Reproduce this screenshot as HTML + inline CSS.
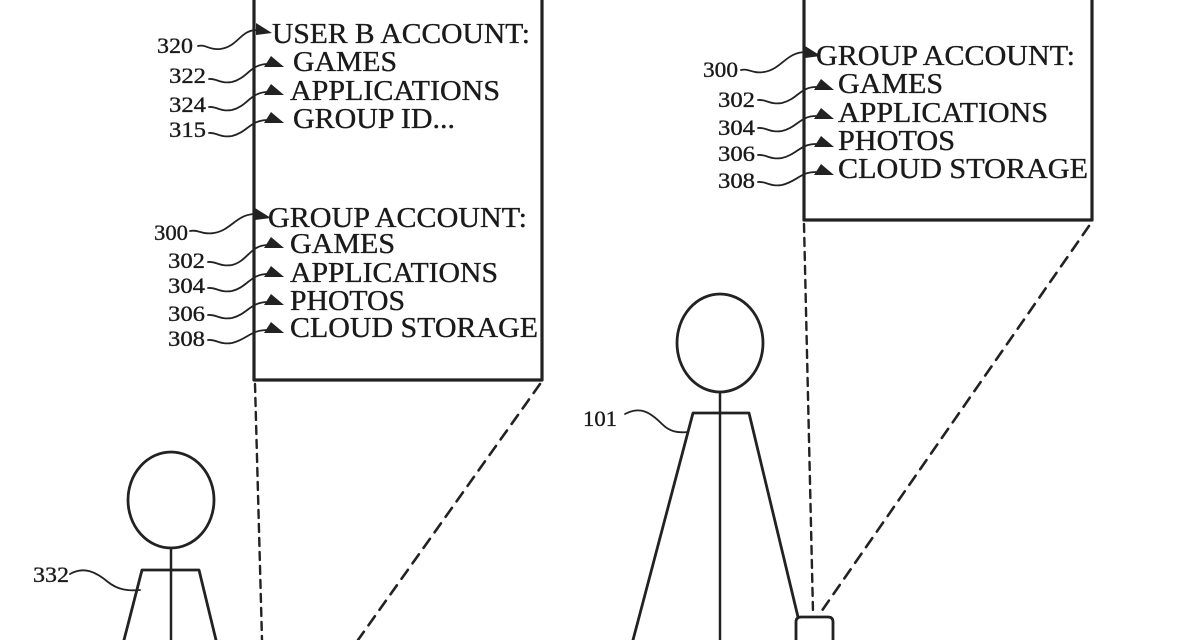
<!DOCTYPE html>
<html><head><meta charset="utf-8"><style>
html,body{margin:0;padding:0;background:#fff;}
svg{display:block;}
text{font-family:"Liberation Serif","DejaVu Serif",serif;fill:#1a1a1a;stroke:#1a1a1a;stroke-width:0.35;}
</style></head><body>
<svg width="1200" height="640" viewBox="0 0 1200 640" xmlns="http://www.w3.org/2000/svg">
<g fill="none" stroke="#222" stroke-linecap="round" stroke-linejoin="round">
  <!-- left box -->
  <path d="M254,0 L254,380 L542,380 L542,0" stroke-width="3.2"/>
  <!-- right box -->
  <path d="M804,0 L804,220 L1092,220 L1092,0" stroke-width="3.2"/>
  <!-- projection dashed lines -->
  <path d="M255,384 L262,640" stroke-width="2.4" stroke-dasharray="8,6"/>
  <path d="M540,384 L358,640" stroke-width="2.6" stroke-dasharray="11,8"/>
  <path d="M804,224 L813,612" stroke-width="2.4" stroke-dasharray="8,6"/>
  <path d="M1089,226 L821,612" stroke-width="2.6" stroke-dasharray="11,8"/>
  <!-- left figure 332 -->
  <ellipse cx="171" cy="500" rx="43" ry="48" stroke-width="2.8"/>
  <path d="M171,548 L171,640" stroke-width="2.5"/>
  <path d="M124,640 L142,570 L199,570 L216,640" stroke-width="2.8"/>
  <!-- right figure 101 -->
  <ellipse cx="720" cy="343" rx="43" ry="49" stroke-width="2.8"/>
  <path d="M720,392 L720,640" stroke-width="2.5"/>
  <path d="M633,640 L693,413 L749,413 L798,617" stroke-width="2.8"/>
  <!-- device -->
  <path d="M796,640 L796,622 Q796,617 801,617 L828,617 Q833,617 833,622 L833,640" stroke-width="2.8"/>
  <!-- leaders -->
  <g stroke-width="1.8">
    <path d="M198,46 C206,44 208,50 220,49 C238,47 240,30 257,30"/>
    <path d="M209,79 C216,78 220,84 232,82 C248,78 250,64 268,64"/>
    <path d="M209,107 C216,106 220,112 232,110 C248,106 250,92 268,92"/>
    <path d="M209,133 C216,132 220,138 232,136 C248,132 250,120 268,120"/>
    <path d="M190,231 C198,229 202,235 214,233 C232,230 236,214 256,214"/>
    <path d="M208,262 C216,261 220,267 232,265 C248,261 250,245 268,245"/>
    <path d="M208,288 C216,287 220,293 232,291 C248,287 250,274 268,274"/>
    <path d="M208,315 C216,314 220,320 232,318 C248,314 250,302 268,302"/>
    <path d="M208,340 C216,339 220,345 232,343 C248,339 250,330 268,330"/>
    <path d="M741,70 C749,68 752,74 764,72 C782,69 786,52 806,52"/>
    <path d="M758,100 C766,99 770,105 782,103 C798,99 800,87 816,87"/>
    <path d="M758,128 C766,127 770,133 782,131 C798,127 800,116 816,116"/>
    <path d="M758,155 C766,154 770,160 782,158 C798,154 800,144 816,144"/>
    <path d="M758,182 C766,181 770,187 782,185 C798,181 800,172 816,172"/>
    <path d="M70,574 C84,566 96,572 108,582 C118,590 128,591 140,590"/>
    <path d="M625,414 C640,406 650,412 662,424 C670,432 678,433 688,432"/>
  </g>
</g>
<!-- arrowheads -->
<g fill="#222">
  <polygon points="256,23 272,33 256,35"/>
  <polygon points="264,67 284,67 271,56"/>
  <polygon points="264,95 284,95 271,84"/>
  <polygon points="264,123 284,123 271,112"/>
  <polygon points="255,208 271,218 255,220"/>
  <polygon points="264,248 284,248 271,237"/>
  <polygon points="264,277 284,277 271,266"/>
  <polygon points="264,305 284,305 271,294"/>
  <polygon points="264,333 284,333 271,322"/>
  <polygon points="805,46 821,56 805,58"/>
  <polygon points="814,90 834,90 821,79"/>
  <polygon points="814,119 834,119 821,108"/>
  <polygon points="814,147 834,147 821,136"/>
  <polygon points="814,175 834,175 821,164"/>
</g>
<!-- box texts -->
<g font-size="28">
  <text x="272" y="43" textLength="258" lengthAdjust="spacingAndGlyphs">USER B ACCOUNT:</text>
  <text x="293" y="71" textLength="104" lengthAdjust="spacingAndGlyphs">GAMES</text>
  <text x="290" y="100" textLength="210" lengthAdjust="spacingAndGlyphs">APPLICATIONS</text>
  <text x="293" y="128" textLength="162" lengthAdjust="spacingAndGlyphs">GROUP ID...</text>

  <text x="268" y="227" textLength="259" lengthAdjust="spacingAndGlyphs">GROUP ACCOUNT:</text>
  <text x="290" y="253" textLength="105" lengthAdjust="spacingAndGlyphs">GAMES</text>
  <text x="290" y="282" textLength="208" lengthAdjust="spacingAndGlyphs">APPLICATIONS</text>
  <text x="290" y="310" textLength="115" lengthAdjust="spacingAndGlyphs">PHOTOS</text>
  <text x="290" y="337" textLength="248" lengthAdjust="spacingAndGlyphs">CLOUD STORAGE</text>

  <text x="816" y="65" textLength="259" lengthAdjust="spacingAndGlyphs">GROUP ACCOUNT:</text>
  <text x="838" y="93" textLength="105" lengthAdjust="spacingAndGlyphs">GAMES</text>
  <text x="838" y="122" textLength="210" lengthAdjust="spacingAndGlyphs">APPLICATIONS</text>
  <text x="838" y="150" textLength="117" lengthAdjust="spacingAndGlyphs">PHOTOS</text>
  <text x="838" y="178" textLength="250" lengthAdjust="spacingAndGlyphs">CLOUD STORAGE</text>
</g>
<!-- reference numerals -->
<g font-size="22">
  <text x="157" y="53" textLength="36" lengthAdjust="spacingAndGlyphs">320</text>
  <text x="169" y="83" textLength="37" lengthAdjust="spacingAndGlyphs">322</text>
  <text x="169" y="112" textLength="37" lengthAdjust="spacingAndGlyphs">324</text>
  <text x="169" y="137" textLength="37" lengthAdjust="spacingAndGlyphs">315</text>
  <text x="154" y="240" textLength="34" lengthAdjust="spacingAndGlyphs">300</text>
  <text x="168" y="268" textLength="37" lengthAdjust="spacingAndGlyphs">302</text>
  <text x="168" y="293" textLength="37" lengthAdjust="spacingAndGlyphs">304</text>
  <text x="168" y="321" textLength="37" lengthAdjust="spacingAndGlyphs">306</text>
  <text x="168" y="346" textLength="37" lengthAdjust="spacingAndGlyphs">308</text>
  <text x="703" y="77" textLength="35" lengthAdjust="spacingAndGlyphs">300</text>
  <text x="718" y="107" textLength="37" lengthAdjust="spacingAndGlyphs">302</text>
  <text x="718" y="135" textLength="37" lengthAdjust="spacingAndGlyphs">304</text>
  <text x="718" y="161" textLength="37" lengthAdjust="spacingAndGlyphs">306</text>
  <text x="718" y="188" textLength="37" lengthAdjust="spacingAndGlyphs">308</text>
  <text x="33" y="582" textLength="36" lengthAdjust="spacingAndGlyphs">332</text>
  <text x="583" y="426" textLength="34" lengthAdjust="spacingAndGlyphs">101</text>
</g>
</svg>
</body></html>
